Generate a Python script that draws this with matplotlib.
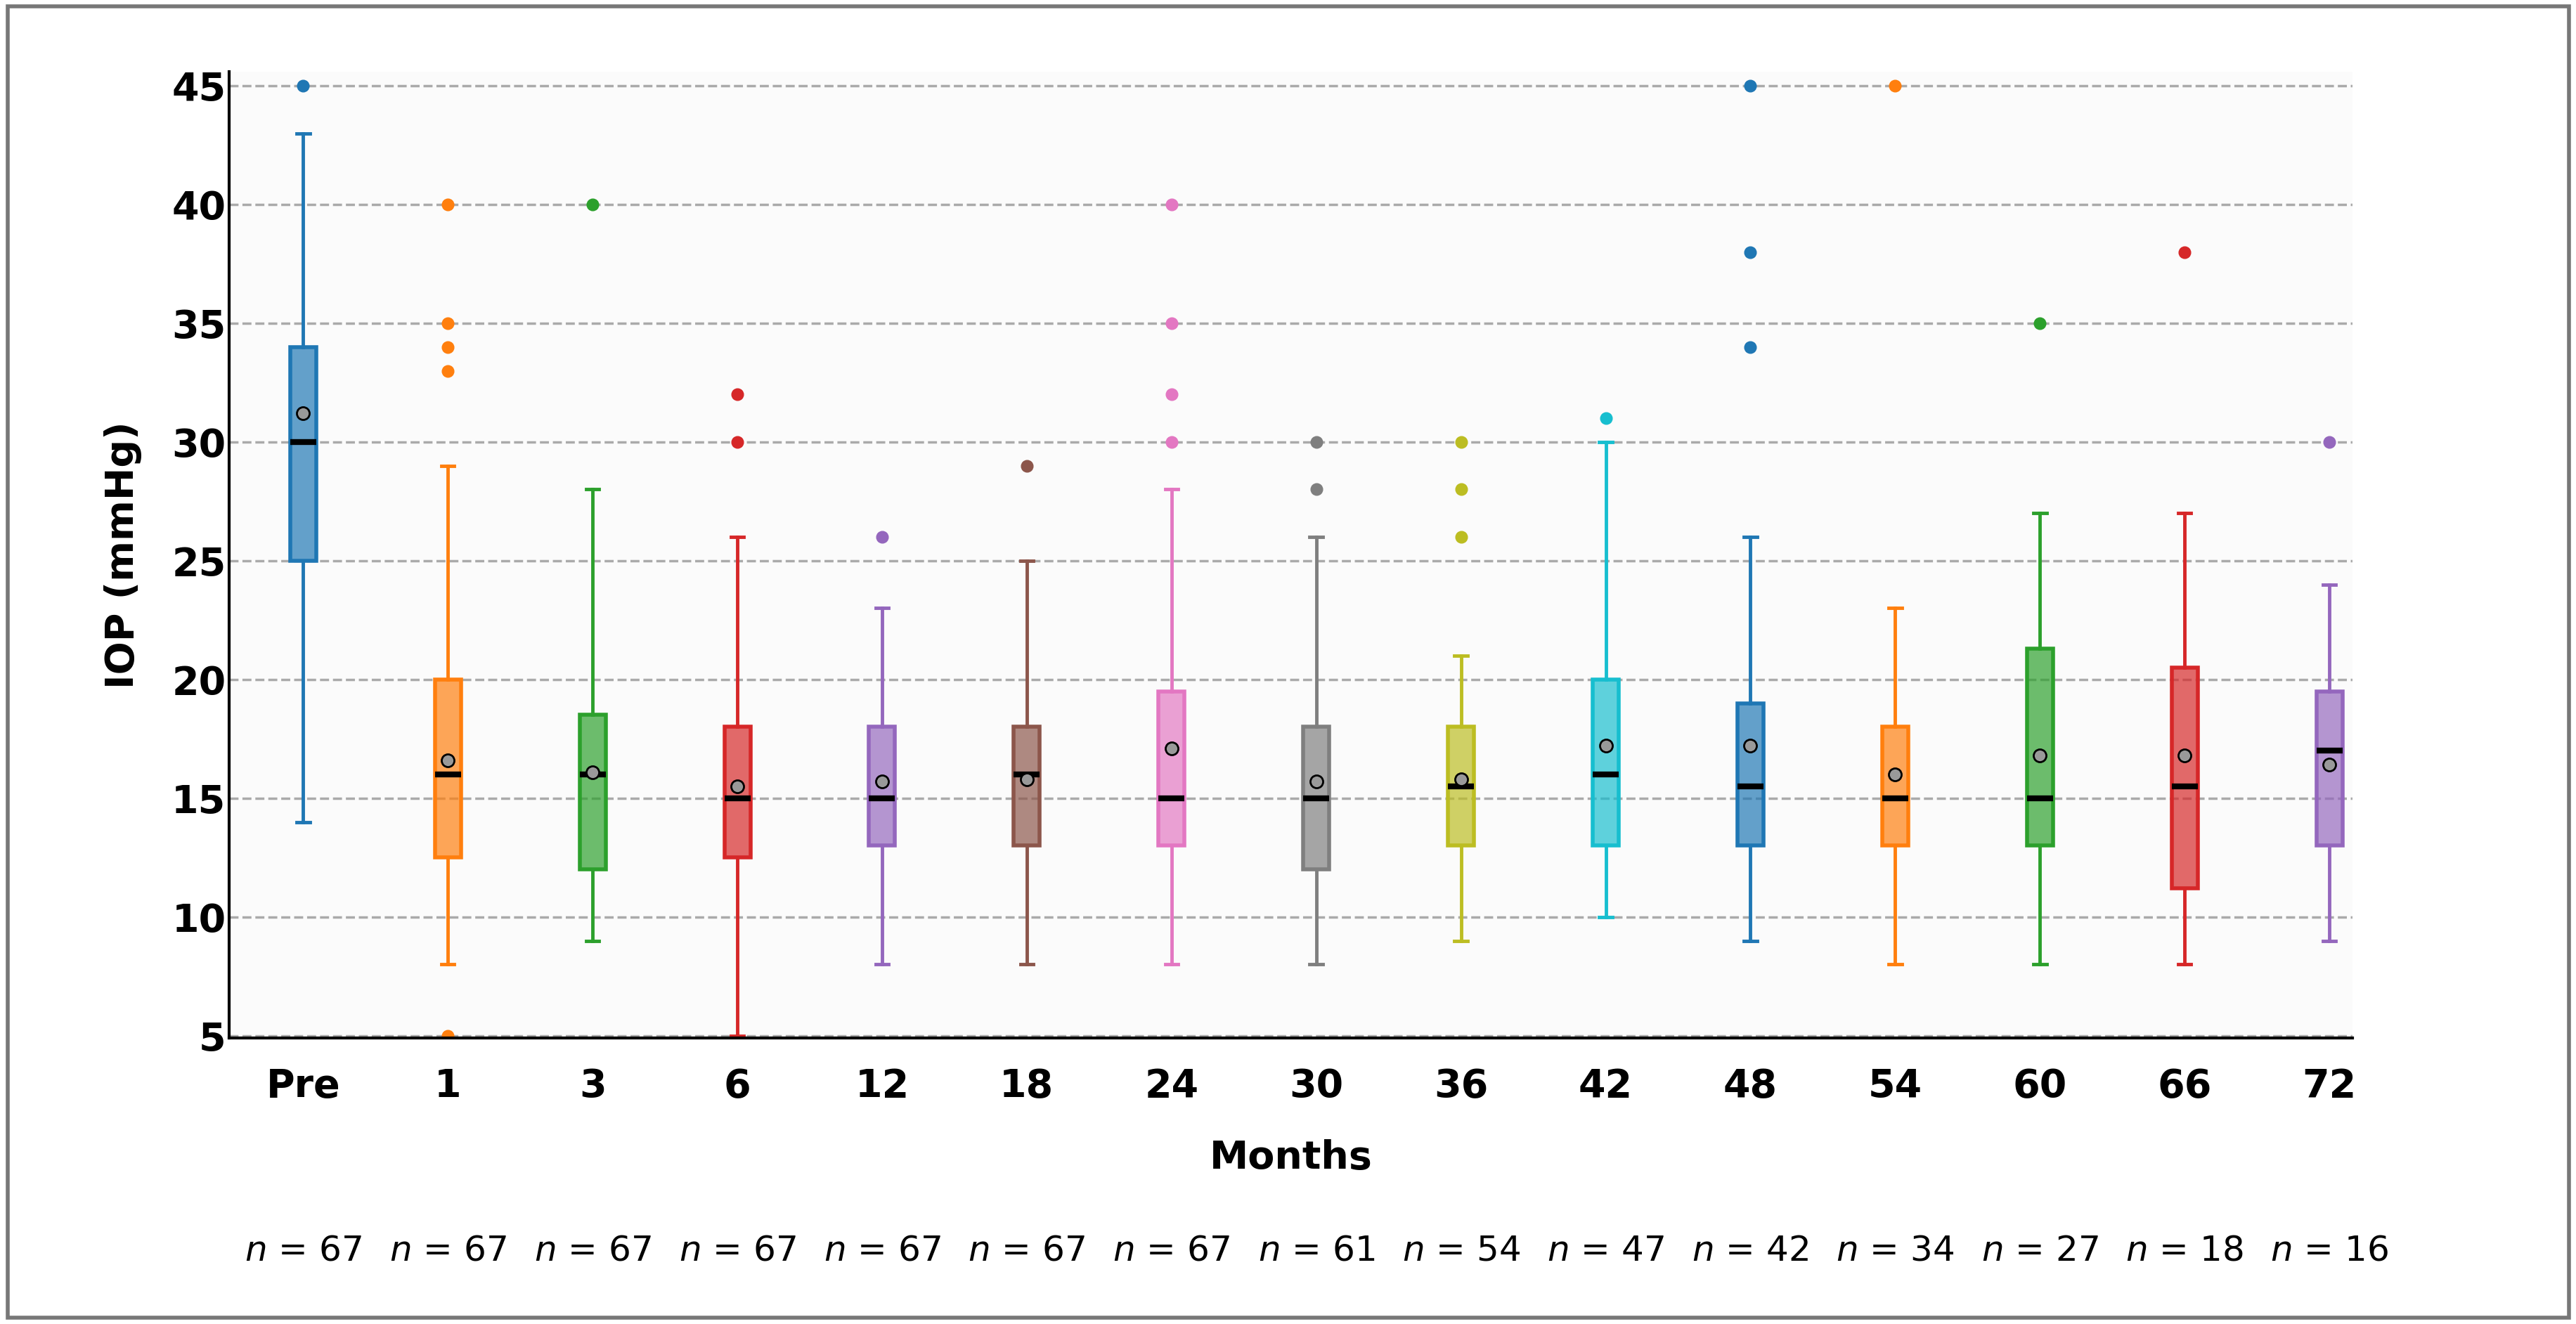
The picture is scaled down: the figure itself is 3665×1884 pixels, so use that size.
import matplotlib
matplotlib.use("Agg")
import matplotlib.pyplot as plt
from matplotlib.patches import Rectangle

labels = ["Pre","1","3","6","12","18","24","30","36","42","48","54","60","66","72"]
q1 = [25,12.5,12,12.5,13,13,13,12,13,13,13,13,13,11.2,13]
med = [30,16,16,15,15,16,15,15,15.5,16,15.5,15,15,15.5,17]
q3 = [34,20,18.5,18,18,18,19.5,18,18,20,19,18,21.3,20.5,19.5]
wlo = [14,8,9,5,8,8,8,8,9,10,9,8,8,8,9]
whi = [43,29,28,26,23,25,28,26,21,30,26,23,27,27,24]
means = [31.2,16.6,16.1,15.5,15.7,15.8,17.1,15.7,15.8,17.2,17.2,16.0,16.8,16.8,16.4]
fliers = [[45],[5,33,34,35,40],[40],[30,32],[26],[29],[30,32,35,40],[28,30],[26,28,30],[31],[34,38,45],[45],[35],[38],[30]]
ns = [67,67,67,67,67,67,67,61,54,47,42,34,27,18,16]
colors = ["#1f77b4","#ff7f0e","#2ca02c","#d62728","#9467bd","#8c564b","#e377c2","#7f7f7f",
          "#bcbd22","#17becf","#1f77b4","#ff7f0e","#2ca02c","#d62728","#9467bd"]

fig = plt.figure(figsize=(36.66,18.84), dpi=100)
fig.patches.append(Rectangle((0.003,0.005),0.994,0.99,transform=fig.transFigure,
                             fill=False,edgecolor="#777777",lw=4))
ax = fig.add_axes([0.089,0.216,0.824,0.73])
ax.set_facecolor("#fbfbfb")
for i in range(len(labels)):
    st = [dict(q1=q1[i],med=med[i],q3=q3[i],whislo=wlo[i],whishi=whi[i],fliers=fliers[i],mean=means[i])]
    c = colors[i]
    ax.bxp(st, positions=[i], widths=0.18, patch_artist=True, showmeans=True,
           boxprops=dict(facecolor=c+"b0", edgecolor=c, lw=4),
           whiskerprops=dict(color=c, lw=3.5), capprops=dict(color=c, lw=3.5),
           medianprops=dict(color="black", lw=6),
           meanprops=dict(marker="o", markerfacecolor="#999999", markeredgecolor="black", markersize=13, mew=2),
           flierprops=dict(marker="o", markerfacecolor=c, markeredgecolor=c, markersize=12))
ax.set_xlim(-0.51,14.16)
ax.set_ylim(4.9,45.6)
ax.set_yticks(range(5,46,5))
ax.yaxis.grid(True, ls="--", color="#aaaaaa", lw=2.5)
ax.set_axisbelow(True)
for s in ["top","right"]:
    ax.spines[s].set_visible(False)
for s in ["left","bottom"]:
    ax.spines[s].set_linewidth(3)
ax.set_xticks(range(len(labels)))
ax.set_xticklabels(labels, fontsize=40, fontweight="bold")
ax.tick_params(axis="y", labelsize=40, length=0)
for t in ax.get_yticklabels():
    t.set_fontweight("bold")
ax.tick_params(axis="x", length=0, pad=30)
ax.set_xlabel("Months", fontsize=40, fontweight="bold", labelpad=35)
ax.set_ylabel("IOP (mmHg)", fontsize=40, fontweight="bold", labelpad=30)
for i, n in enumerate(ns):
    ax.text(i, -0.22, f"$\\it{{n}}$ = {n}", transform=ax.get_xaxis_transform(),
            ha="center", va="center", fontsize=36)
fig.savefig("out.png", dpi=100)
